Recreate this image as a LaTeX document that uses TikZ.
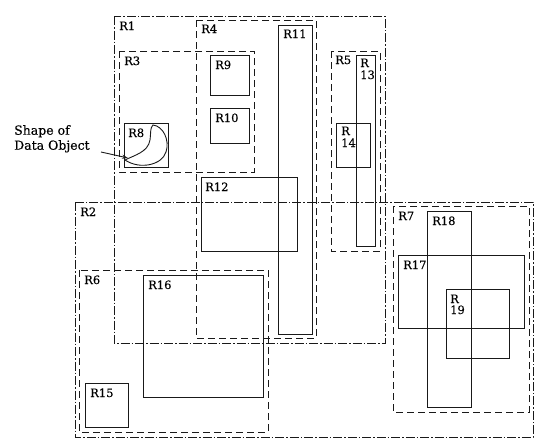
\documentclass[tikz,border=0pt]{standalone}
\usepackage{fontspec}
\setmainfont{DejaVu Serif}[FakeBold=0.3]
\usetikzlibrary{arrows.meta}
\tikzset{
  solidbox/.style={draw=black!90, line width=0.9pt},
  dashbox/.style={draw=black!90, line width=1pt, dash pattern=on 7pt off 4pt},
  ddbox/.style={draw=black!90, line width=1pt, dash pattern=on 9pt off 2pt on 1.5pt off 2pt},
  lbl/.style={anchor=base west, inner sep=0pt, font=\fontsize{11.5}{12}\bfseries\selectfont},
  note/.style={anchor=north west, inner sep=0pt, align=left, font=\fontsize{12.5}{15}\bfseries\selectfont},
  pointer/.style={draw=black!90, line width=0.9pt, -{Stealth[length=6pt,width=4pt]}}
}
\setmainfont{DejaVu Serif}[BoldFont={DejaVu Serif}, BoldFeatures={FakeBold=0.35}]
\begin{document}
\begin{tikzpicture}[x=1pt,y=-1pt]
\useasboundingbox (0,0) rectangle (547,442);
% outer dash-dot regions
\draw[ddbox] (114,16) rectangle (385,343);
\node[lbl] (t1) at (119,30) {R1};
\draw[ddbox] (75,202) rectangle (533,437);
\node[lbl] (t2) at (80,216) {R2};
% dashed regions
\draw[dashbox] (119,51) rectangle (254,172);
\node[lbl] (t3) at (124,65) {R3};
\draw[dashbox] (196,20) rectangle (316,338);
\node[lbl] (t4) at (201,33) {R4};
\draw[dashbox] (331,51) rectangle (380,251);
\node[lbl] (t5) at (335,64) {R5};
\draw[dashbox] (79,270) rectangle (268,432);
\node[lbl] (t6) at (84,284) {R6};
\draw[dashbox] (393,206) rectangle (529,412);
\node[lbl] (t7) at (398,220) {R7};
% solid objects
\draw[solidbox] (124,123) rectangle (168,167);
\node[lbl] (t8) at (128,137) {R8};
\draw[solidbox] (210,55) rectangle (249,95);
\node[lbl] (t9) at (215,69) {R9};
\draw[solidbox] (210,108) rectangle (249,143);
\node[lbl] (t10) at (215,122) {R10};
\draw[solidbox] (278,25) rectangle (312,334);
\node[lbl] (t11) at (283,38) {R11};
\draw[solidbox] (201,177) rectangle (297,251);
\node[lbl] (t12) at (205,191) {R12};
\draw[solidbox] (356,55) rectangle (375,246);
\node[lbl] (t13a) at (360,67) {R};
\node[lbl] (t13b) at (360,79) {13};
\draw[solidbox] (336,123) rectangle (370,167);
\node[lbl] (t14a) at (341,135) {R};
\node[lbl] (t14b) at (341,147) {14};
\draw[solidbox] (85,383) rectangle (128,427);
\node[lbl] (t15) at (90,397) {R15};
\draw[solidbox] (143,275) rectangle (263,397);
\node[lbl] (t16) at (148,289) {R16};
\draw[solidbox] (398,255) rectangle (524,328);
\node[lbl] (t17) at (403,269) {R17};
\draw[solidbox] (427,211) rectangle (471,407);
\node[lbl] (t18) at (432,225) {R18};
\draw[solidbox] (446,289) rectangle (509,358);
\node[lbl] (t19a) at (450,303) {R};
\node[lbl] (t19b) at (450,314) {19};
% data object shape
\draw[solidbox] (153,125) .. controls (163,126) and (170,140) .. (166,152)
  .. controls (162,165) and (140,170) .. (125,160)
  .. controls (135,155) and (148,152) .. (150,140)
  .. controls (151,132) and (150,128) .. (153,125) -- cycle;
% annotation
\node[note] (shape) at (14,125) {Shape of\\Data Object};
\coordinate (astart) at (101,152);
\coordinate (aend) at (128,158);
\draw[pointer] (astart) -- (aend);
\end{tikzpicture}
\end{document}
